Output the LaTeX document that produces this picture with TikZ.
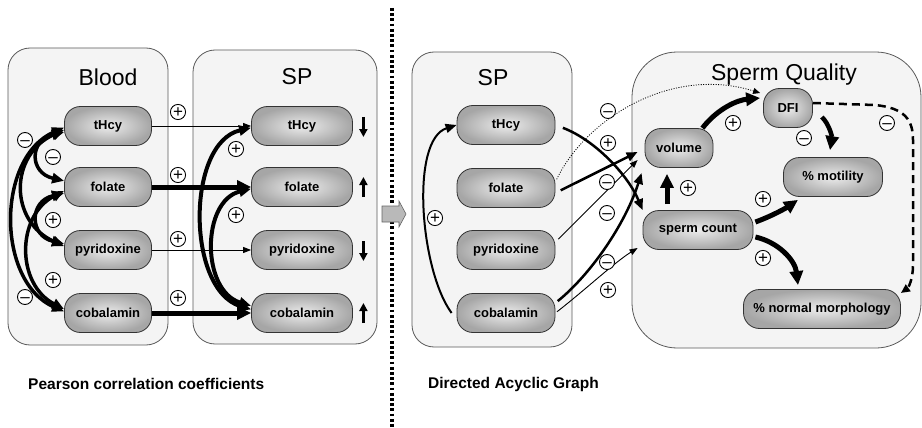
\documentclass[tikz,border=0pt]{standalone}
\usepackage{fontspec}
\setmainfont{Liberation Sans}
\usetikzlibrary{arrows.meta}
\begin{document}
\begin{tikzpicture}[x=1pt,y=-1pt,
  panel/.style={draw=black!65, line width=0.8pt, fill=gray!9, rounded corners=22pt},
  nd/.style={rectangle, rounded corners=16pt, draw=black!80, line width=0.8pt, inner color=gray!15, outer color=gray!70, minimum height=39pt, inner sep=2pt, font=\fontsize{13}{13}\selectfont\bfseries},
  ttl/.style={font=\fontsize{23}{23}\selectfont, inner sep=0pt},
  captext/.style={font=\fontsize{15.5}{16}\selectfont\bfseries, anchor=west, inner sep=0pt},
  sg/.style={circle, draw=black, line width=0.9pt, fill=white, minimum size=15pt, inner sep=0pt, text height=11.5pt, text depth=0pt, font=\fontsize{17}{17}\selectfont},
  thinA/.style={line width=0.9pt, -{Triangle[length=8pt,width=6pt]}},
  midA/.style={line width=2.5pt, -{Triangle[length=11pt,width=9pt]}},
  thickA/.style={line width=5pt, -{Triangle[length=14pt,width=13pt]}},
  darc/.style={line width=3.5pt, {Triangle[length=12pt,width=10pt]}-{Triangle[length=12pt,width=10pt]}},
  ud/.style={line width=2.8pt, -{Triangle[length=8pt,width=8pt]}},
  dotA/.style={line width=0.8pt, dash pattern=on 1pt off 1.5pt, -{Triangle[length=7pt,width=6pt]}},
  dashA/.style={line width=2.5pt, dash pattern=on 8pt off 5pt, -{Triangle[length=9pt,width=8pt]}},
]
\useasboundingbox (0,0) rectangle (922,428);

% panels
\draw[panel] (8,48) rectangle (168,345);
\draw[panel] (193,50) rectangle (377,344);
\draw[panel] (412,52) rectangle (572,347);
\draw[panel, rounded corners=45pt] (632,52) rectangle (921,348);

% separator and block arrow
\draw[line width=3.5pt, dash pattern=on 2.8pt off 2.4pt] (392,8) -- (392,428);
\draw[fill=gray!55, draw=black!60, line width=0.6pt] (382,206) -- (399,206) -- (399,201) -- (406,214) -- (399,227) -- (399,222) -- (382,222) -- cycle;

% titles
\node[ttl] (tBlood) at (108,77) {Blood};
\node[ttl] (tSP1) at (297,77) {SP};
\node[ttl] (tSP2) at (493,78) {SP};
\node[ttl] (tSQ) at (784,75) {Sperm Quality};

% nodes
\node[nd, minimum width=87pt] (bT) at (108,126) {tHcy};
\node[nd, minimum width=87pt] (bF) at (108,187) {folate};
\node[nd, minimum width=87pt] (bP) at (108,250) {pyridoxine};
\node[nd, minimum width=87pt] (bC) at (108,313) {cobalamin};
\node[nd, minimum width=101pt] (sT) at (302,126) {tHcy};
\node[nd, minimum width=101pt] (sF) at (302,187) {folate};
\node[nd, minimum width=101pt] (sP) at (302,250) {pyridoxine};
\node[nd, minimum width=101pt] (sC) at (302,313) {cobalamin};
\node[nd, minimum width=98pt] (mT) at (506,125) {tHcy};
\node[nd, minimum width=98pt] (mF) at (506,188) {folate};
\node[nd, minimum width=98pt] (mP) at (506,250) {pyridoxine};
\node[nd, minimum width=98pt] (mC) at (506,313) {cobalamin};
\node[nd, minimum width=49pt] (dfi) at (788,108) {DFI};
\node[nd, minimum width=68pt] (vol) at (679,148) {volume};
\node[nd, minimum width=99pt] (mot) at (833,177) {\% motility};
\node[nd, minimum width=110pt] (sc) at (698,230) {sperm count};
\node[nd, minimum width=157pt] (mor) at (822,309) {\% normal morphology};

% captions
\node[captext] (c1) at (28,384) {Pearson correlation coefficients};
\node[captext] (c2) at (428,384) {Directed Acyclic Graph};

% blood correlations
\draw[darc] (bT.188) .. controls +(-35,8) and +(-35,-8) .. (bF.172);
\draw[darc] (bF.188) .. controls +(-35,8) and +(-35,-8) .. (bP.172);
\draw[darc] (bT.185) .. controls +(-55,25) and +(-55,-25) .. (bP.175);
\draw[darc] (bF.185) .. controls +(-48,25) and +(-48,-25) .. (bC.175);
\draw[darc] (bT.182) .. controls +(-68,30) and +(-68,-30) .. (bC.178);

% blood -> SP
\draw[thinA] (bT.east) -- (sT.west);
\draw[thickA] (bF.east) -- (sF.west);
\draw[thinA] (bP.east) -- (sP.west);
\draw[thickA] (bC.east) -- (sC.west);

% SP correlations
\draw[darc, line width=4pt] (sT.182) .. controls +(-65,15) and +(-65,-20) .. (sC.176);
\draw[darc, line width=4pt] (sF.182) .. controls +(-50,12) and +(-50,-15) .. (sC.172);

% up/down indicators
\draw[ud] ([xshift=10.5pt,yshift=9pt]sT.east) -- ([xshift=10.5pt,yshift=-11pt]sT.east);
\draw[ud] ([xshift=10.5pt,yshift=-10pt]sF.east) -- ([xshift=10.5pt,yshift=10pt]sF.east);
\draw[ud] ([xshift=10.5pt,yshift=9pt]sP.east) -- ([xshift=10.5pt,yshift=-11pt]sP.east);
\draw[ud] ([xshift=10.5pt,yshift=-10pt]sC.east) -- ([xshift=10.5pt,yshift=10pt]sC.east);

% DAG: SP -> sperm quality
\draw[midA, line width=2pt] ([xshift=-5pt]mC.west) .. controls (420,270) and (410,140) .. (mT.west);
\draw[midA, shorten <=8pt] (mT.east) .. controls (595,140) and (628,175) .. (sc.north west);
\draw[midA, shorten <=6pt] ([yshift=-5pt]mF.east) -- ([xshift=-7pt,yshift=-4pt]vol.west);
\draw[dotA, shorten <=3pt] ([yshift=6pt]mF.east) .. controls (585,120) and (670,65) .. ([xshift=-3pt,yshift=15pt]dfi.west);
\draw[thinA, shorten <=4pt] ([yshift=8pt]mP.east) -- ([xshift=-7pt,yshift=-12pt]vol.west);
\draw[midA, shorten <=3pt] ([yshift=10pt]mC.east) .. controls (590,275) and (625,225) .. ([xshift=-3pt,yshift=-25pt]vol.west);
\draw[thinA, shorten <=2pt] (mC.east) .. controls (585,290) and (615,262) .. ([xshift=-5pt,yshift=-18pt]sc.west);

% sperm quality internal
\draw[thickA] ([xshift=-11pt]vol.north east) .. controls (718,108) and (738,100) .. ([xshift=-3pt,yshift=10pt]dfi.west);
\draw[thickA, shorten <=6pt, shorten >=6pt] ([xshift=-31pt]sc.north) -- ([xshift=-12pt]vol.south);
\draw[thickA, line width=4.5pt] ([xshift=9pt,yshift=-9pt]dfi.east) .. controls (830,125) and (832,138) .. ([xshift=-3pt,yshift=7pt]mot.north);
\draw[dashA] ([yshift=5pt]dfi.east) -- (875,105) .. controls (905,108) and (913,120) .. (913,140) -- (913,265) .. controls (913,280) and (908,288) .. ([yshift=16pt]mor.east);
\draw[thickA] ([xshift=2pt,yshift=8pt]sc.east) .. controls (772,216) and (786,208) .. ([xshift=-35pt,yshift=-3pt]mot.south);
\draw[thickA] ([xshift=2pt,yshift=-7pt]sc.east) .. controls (778,242) and (795,260) .. ([xshift=-24pt,yshift=4pt]mor.north);

% signs
\node[sg] (p1) at (178,112) {+};
\node[sg] (p2) at (178,175) {+};
\node[sg] (p3) at (178,239) {+};
\node[sg] (p4) at (178,298) {+};
\node[sg] (p5) at (25,140) {–};
\node[sg] (p6) at (53,157) {–};
\node[sg] (p7) at (53,220) {+};
\node[sg] (p8) at (53,280) {+};
\node[sg] (p9) at (25,297) {–};
\node[sg] (p10) at (236,149) {+};
\node[sg] (p11) at (236,215) {+};
\node[sg] (p12) at (435,218) {+};
\node[sg] (p13) at (608,111) {–};
\node[sg] (p14) at (608,143) {+};
\node[sg] (p15) at (607,182) {–};
\node[sg] (p16) at (607,213) {–};
\node[sg] (p17) at (607,262) {–};
\node[sg] (p18) at (608,290) {+};
\node[sg] (p19) at (733,123) {+};
\node[sg] (p20) at (688,188) {+};
\node[sg] (p21) at (804,138) {–};
\node[sg] (p22) at (887,123) {–};
\node[sg] (p23) at (763,199) {+};
\node[sg] (p24) at (763,258) {+};
\end{tikzpicture}
\end{document}
